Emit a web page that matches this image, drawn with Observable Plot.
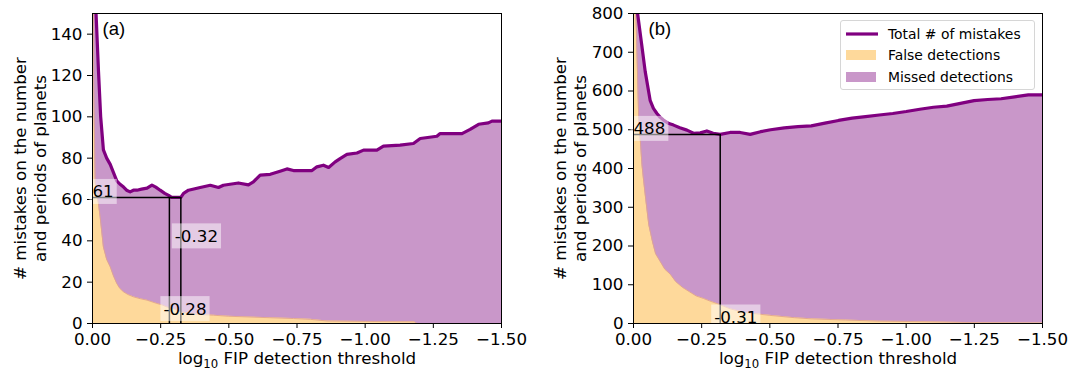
<!DOCTYPE html>
<html>
<head>
<meta charset="utf-8">
<script src="https://cdn.jsdelivr.net/npm/d3@7"></script>
<script src="https://cdn.jsdelivr.net/npm/@observablehq/plot@0.6"></script>
<style>
  body { margin: 0; background: #fff; }
  #wrap { position: relative; width: 1071px; height: 370px; overflow: hidden; background: #fff; font-family: "DejaVu Sans", sans-serif; }
  .panel { position: absolute; top: 0; }
  #legend { position: absolute; left: 840px; top: 20px; width: 195px; height: 70px; box-sizing: border-box;
            border: 1px solid #d6d6d6; border-radius: 3px; background: rgba(255,255,255,0.8); }
  .lg-item { position: absolute; left: 0; height: 20px; width: 195px; }
  .lg-key { position: absolute; left: 4px; }
  .lg-text { position: absolute; left: 47px; top: 0; line-height: 20px; font-size: 13.9px; color: #000; white-space: nowrap; }
</style>
</head>
<body>
<div id="wrap">
  <div id="pa" class="panel" style="left:0px"></div>
  <div id="pb" class="panel" style="left:540px"></div>
  <div id="legend"></div>
</div>
<script>
// ---------- data ----------
const xTicks = [0, -0.25, -0.5, -0.75, -1, -1.25, -1.5];
const aYTicks = [0, 20, 40, 60, 80, 100, 120, 140];
const bYTicks = [0, 100, 200, 300, 400, 500, 600, 700, 800];

const seriesNames = ["Total # of mistakes", "False detections", "Missed detections"];

// panel (a): total number of mistakes
const aTotalX = [0, -0.008, -0.013, -0.022, -0.03, -0.04, -0.052, -0.065, -0.077, -0.089, -0.1, -0.114, -0.125, -0.138, -0.15, -0.163, -0.18, -0.2, -0.218, -0.232, -0.248, -0.265, -0.279, -0.29, -0.324, -0.334, -0.352, -0.395, -0.432, -0.462, -0.48, -0.535, -0.572, -0.59, -0.615, -0.652, -0.688, -0.713, -0.737, -0.805, -0.823, -0.847, -0.866, -0.89, -0.908, -0.933, -0.97, -0.994, -1.043, -1.067, -1.128, -1.177, -1.202, -1.263, -1.275, -1.355, -1.385, -1.416, -1.452, -1.465, -1.5];
const aTotal  = [400, 180, 150, 122, 100, 84, 80, 77, 73, 69, 67.5, 66, 64.5, 63.7, 64.5, 64.5, 65, 65.5, 67, 66, 64.5, 63, 62, 61, 61, 63, 64.5, 65.8, 66.9, 65.8, 66.9, 68, 67.1, 68.5, 71.8, 72.2, 73.7, 74.8, 74, 74, 75.8, 76.6, 75.5, 78.2, 79.8, 81.8, 82.5, 83.9, 83.9, 85.8, 86.3, 87.1, 89.5, 90.6, 91.9, 91.9, 93.9, 96.4, 97.1, 97.9, 97.9];
// panel (a): false detections
const aFalseX = [0, -0.004, -0.01, -0.02, -0.028, -0.04, -0.052, -0.065, -0.077, -0.089, -0.1, -0.114, -0.13, -0.15, -0.175, -0.2, -0.236, -0.255, -0.273, -0.3, -0.322, -0.38, -0.444, -0.5, -0.566, -0.65, -0.737, -0.8, -0.86, -1.0, -1.18, -1.19, -1.5];
const aFalse  = [400, 120, 68, 60, 51.6, 37, 31, 27.4, 23, 19.4, 17, 15.3, 14, 12.9, 12, 11.3, 9.7, 9, 8, 7, 5.6, 4.5, 4.0, 3.5, 3.2, 2.8, 2.4, 2, 1.2, 1, 0.8, 0, 0];
// panel (a): minimum annotation
const aMin = 61;
const aMinX = [-0.282, -0.324];
const aMinLabels = ["-0.28", "-0.32"];
const aMinLabelY = [4.3, 39.5];

// panel (b): total number of mistakes
const bTotalX = [0, -0.015, -0.03, -0.043, -0.061, -0.073, -0.086, -0.098, -0.11, -0.13, -0.147, -0.17, -0.196, -0.22, -0.245, -0.269, -0.292, -0.318, -0.354, -0.391, -0.428, -0.466, -0.503, -0.553, -0.603, -0.652, -0.702, -0.752, -0.802, -0.851, -0.901, -0.951, -1.0, -1.05, -1.1, -1.149, -1.199, -1.249, -1.299, -1.348, -1.398, -1.448, -1.5];
const bTotal  = [1500, 800, 720, 650, 576, 555, 542, 532, 525, 516, 512, 505, 499, 491, 492, 497, 491, 488, 493, 493, 488, 495, 500, 505, 508, 510, 517, 524, 530, 534, 538, 542, 547, 553, 558, 561, 568, 575, 578, 580, 585, 590, 590];
// panel (b): false detections
const bFalseX = [0, -0.009, -0.019, -0.025, -0.031, -0.037, -0.045, -0.056, -0.07, -0.081, -0.098, -0.115, -0.135, -0.155, -0.18, -0.205, -0.23, -0.257, -0.28, -0.304, -0.329, -0.354, -0.404, -0.44, -0.5, -0.59, -0.652, -0.777, -0.901, -1.025, -1.149, -1.274, -1.5];
const bFalse  = [1500, 800, 534, 473, 410, 370, 320, 255, 210, 180, 160, 140, 127, 108, 93, 82, 71, 64.5, 58, 52, 45, 38, 29, 26, 21, 15, 12, 9, 6, 5, 3.5, 2, 1];
// panel (b): minimum annotation
const bMin = 488;
const bMinX = [-0.318];
const bMinLabels = ["-0.31"];
const bMinLabelY = [1.3];

// ---------- styles ----------
const C_LINE = "#800080";
const C_MISSED = "#c997c9";
const C_FALSE = "#fed99b";
const C_EDGE = "#e0a48e";
const FONT = "DejaVu Sans";
const FS = 16.7;
const XLABEL = "log10 FIP detection threshold";

const fmtX = d => d === 0 ? "0.00" : "\u2212" + Math.abs(d).toFixed(2);

function panel(o) {
  const total = o.totalX.map((x, i) => ({x, y: o.total[i]}));
  const fals = o.falseX.map((x, i) => ({x, y: o.fals[i]}));
  const xEnd = Math.min(...o.minX);
  const labels = o.minX.map((x, i) => ({x, y: o.labelY[i], t: o.labels[i]}));
  const plot = Plot.plot({
    width: o.width, height: 370,
    marginLeft: o.ml, marginRight: o.mr, marginTop: 13, marginBottom: 47,
    style: {fontFamily: FONT, fontSize: FS + "px", color: "black", background: "white", overflow: "visible"},
    x: {domain: [0, -1.5], ticks: xTicks, tickFormat: fmtX, tickSize: 5, tickPadding: 5, label: null},
    y: {domain: o.yDomain, ticks: o.yTicks, tickSize: 5, tickPadding: 5, label: null},
    marks: [
      Plot.areaY(total, {x: "x", y1: 0, y2: "y", fill: C_MISSED, clip: true}),
      Plot.areaY(fals, {x: "x", y1: 0, y2: "y", fill: C_FALSE, clip: true}),
      Plot.line(fals, {x: "x", y: "y", stroke: C_EDGE, strokeWidth: 0.9, clip: true}),
      Plot.line(total, {x: "x", y: "y", stroke: C_LINE, strokeWidth: 3.2, clip: true}),
      Plot.ruleY([o.min], {x1: 0, x2: xEnd, stroke: "black", strokeWidth: 1.5}),
      Plot.ruleX(o.minX, {y1: 0, y2: o.min, stroke: "black", strokeWidth: 1.5}),
      Plot.text([o.min], {x: 0, y: d => d, text: d => String(d), textAnchor: "start", lineAnchor: "bottom", dx: 0, fontSize: FS}),
      Plot.text(labels, {x: "x", y: "y", text: "t", textAnchor: "start", lineAnchor: "bottom", dx: -6, fontSize: FS}),
      Plot.text([o.tag], {frameAnchor: "top-left", dx: o.tagDx, dy: 21, textAnchor: "start", lineAnchor: "bottom", fontFamily: "Liberation Sans, Arial, sans-serif", fontSize: 18.5}),
      Plot.text([XLABEL], {frameAnchor: "bottom", lineAnchor: "bottom", dy: 40.5, fontSize: FS}),
      Plot.text(["# mistakes on the number\nand periods of planets"], {frameAnchor: "left", rotate: -90, textAnchor: "middle", lineAnchor: "top", lineHeight: 1.17, dx: 12.1 - o.ml, fontSize: FS}),
      Plot.frame({stroke: "black", strokeWidth: 1})
    ]
  });
  return plot;
}

const SVGNS = "http://www.w3.org/2000/svg";
function addBoxes(svg, texts) {
  svg.querySelectorAll("text").forEach(t => {
    if (!texts.includes(t.textContent)) return;
    const b = t.getBBox();
    const r = document.createElementNS(SVGNS, "rect");
    r.setAttribute("x", b.x - 3);
    r.setAttribute("y", b.y - 2.5);
    r.setAttribute("width", b.width + 6);
    r.setAttribute("height", b.height + 5);
    r.setAttribute("fill", "white");
    r.setAttribute("fill-opacity", "0.5");
    const tr = t.getAttribute("transform");
    if (tr) r.setAttribute("transform", tr);
    t.parentNode.insertBefore(r, t);
  });
}
function subscriptLabel(svg) {
  svg.querySelectorAll("text").forEach(t => {
    if (t.textContent !== XLABEL) return;
    t.textContent = "";
    const a = document.createElementNS(SVGNS, "tspan"); a.textContent = "log";
    const s = document.createElementNS(SVGNS, "tspan"); s.textContent = "10";
    s.setAttribute("font-size", "11.7px"); s.setAttribute("dy", "3.5");
    const c = document.createElementNS(SVGNS, "tspan"); c.textContent = " FIP detection threshold";
    c.setAttribute("dy", "-3.5");
    t.append(a, s, c);
  });
}

const pa = panel({width: 536, ml: 92, mr: 35, yDomain: [0, 150], yTicks: aYTicks,
  totalX: aTotalX, total: aTotal, falseX: aFalseX, fals: aFalse,
  min: aMin, minX: aMinX, labels: aMinLabels, labelY: aMinLabelY, tag: "(a)", tagDx: 10});
document.getElementById("pa").appendChild(pa);
addBoxes(pa, [String(aMin), ...aMinLabels]);
subscriptLabel(pa);

const pb = panel({width: 531, ml: 93, mr: 29, yDomain: [0, 800], yTicks: bYTicks,
  totalX: bTotalX, total: bTotal, falseX: bFalseX, fals: bFalse,
  min: bMin, minX: bMinX, labels: bMinLabels, labelY: bMinLabelY, tag: "(b)", tagDx: 15});
document.getElementById("pb").appendChild(pb);
addBoxes(pb, [String(bMin), ...bMinLabels]);
subscriptLabel(pb);

// ---------- legend ----------
const legend = document.getElementById("legend");
const keys = [
  `<svg class="lg-key" width="34" height="20" style="top:0"><line x1="1" x2="33" y1="10" y2="10" stroke="${C_LINE}" stroke-width="3.2"/></svg>`,
  `<svg class="lg-key" width="34" height="20" style="top:0"><rect x="1" y="5" width="30" height="10" fill="${C_FALSE}"/></svg>`,
  `<svg class="lg-key" width="34" height="20" style="top:0"><rect x="1" y="5" width="30" height="10" fill="${C_MISSED}"/></svg>`
];
const tops = [2.5, 23.5, 46];
seriesNames.forEach((name, i) => {
  const item = document.createElement("div");
  item.className = "lg-item";
  item.style.top = tops[i] + "px";
  item.innerHTML = keys[i] + `<span class="lg-text">${name}</span>`;
  legend.appendChild(item);
});
</script>
</body>
</html>
